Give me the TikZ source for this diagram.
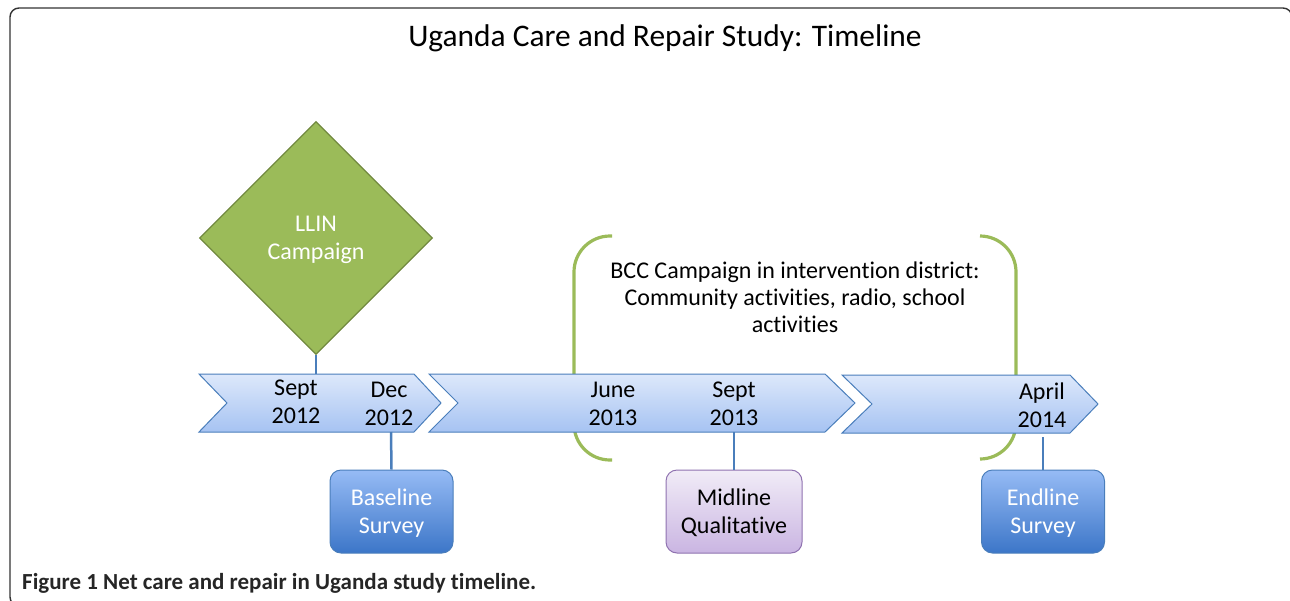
\documentclass[tikz,border=0pt]{standalone}
\usepackage{fontspec}
\setmainfont{Carlito}[Ligatures=NoCommon]
\usetikzlibrary{shapes.geometric}
\definecolor{chevb}{HTML}{4A7EBB}
\definecolor{chevt}{HTML}{DDE8FB}
\definecolor{chevbot}{HTML}{A6C3F2}
\definecolor{survt}{HTML}{96BBF5}
\definecolor{survb}{HTML}{3C76C8}
\definecolor{midt}{HTML}{F1ECF7}
\definecolor{midb}{HTML}{CAB5E2}
\definecolor{midd}{HTML}{8F72B0}
\definecolor{llin}{HTML}{9BBB59}
\definecolor{llind}{HTML}{71893F}
\definecolor{frame}{HTML}{333333}
\tikzset{
  chev/.style={draw=chevb, line width=1pt, top color=chevt, bottom color=chevbot},
  datelbl/.style={font=\fontsize{24}{28}\selectfont, align=center, inner sep=0pt},
  survey/.style={rectangle, rounded corners=11pt, draw=chevb, line width=1pt, top color=survt, bottom color=survb, minimum width=123pt, minimum height=83pt, text=white, align=center, font=\fontsize{24}{28}\selectfont, text depth=-4pt},
  midbox/.style={rectangle, rounded corners=11pt, draw=midd, line width=1pt, top color=midt, bottom color=midb, minimum width=136pt, minimum height=83pt, text=black, align=center, font=\fontsize{24}{28}\selectfont, text depth=-4pt},
  link/.style={draw=chevb, line width=2.5pt},
  bracket/.style={draw=llin, line width=3.2pt, rounded corners=36pt},
}
\begin{document}
\begin{tikzpicture}[x=1pt,y=-1pt]
\useasboundingbox (0,0) rectangle (1290,600);
\begin{scope}
\clip (0,0) rectangle (1290,600);
\draw[frame, line width=1.4pt, rounded corners=9pt] (10,8) rectangle (1292,606);
\end{scope}

% title
\node[font=\fontsize{31.4}{36}\selectfont, inner sep=0pt] (title) at (665,38) {Uganda Care and Repair Study: Timeline};

% brackets (behind chevrons)
\draw[bracket] (612,236) -- (574,236) -- (574,460) -- (612,460);
\draw[bracket] (980,236) -- (1016,236) -- (1016,459) -- (980,459);

% chevrons
\path[chev] (199,374) -- (414,374) -- (441,403) -- (414,432) -- (199,432) -- (227,403) -- cycle;
\path[chev] (429,374) -- (825,374) -- (855,403) -- (825,432) -- (429,432) -- (458,403) -- cycle;
\path[chev] (842,375) -- (1070,375) -- (1098,404) -- (1070,433) -- (842,433) -- (872,404) -- cycle;

\coordinate (c1top) at (316,374);
\coordinate (c1bot) at (391,432);
\coordinate (c2bot) at (734,432);
\coordinate (c3bot) at (1043,437);

% date labels
\node[datelbl] (sept12) at (296,402) {Sept\\2012};
\node[datelbl] (dec12) at (389,403.5) {Dec\\2012};
\node[datelbl] (june13) at (613,404) {June\\2013};
\node[datelbl] (sept13) at (734,404) {Sept\\2013};
\node[datelbl] (apr14) at (1042,405) {April\\2014};

% LLIN diamond
\node[diamond, aspect=1, minimum size=233pt, inner sep=0pt, fill=llin, draw=llind, line width=1.2pt, text=white, align=center, font=\fontsize{24}{28}\selectfont, text depth=0pt] (llin) at (316,238) {LLIN\\Campaign};
\draw[link] (llin.south) -- (c1top);

% BCC text
\node[font=\fontsize{24}{27}\selectfont, align=center, inner sep=0pt] (bcc) at (795,297) {BCC Campaign in intervention district:\\Community activities, radio, school\\activities};

% survey boxes
\node[survey] (base) at (391.5,511.5) {Baseline\\Survey};
\node[midbox] (mid) at (734,511.5) {Midline\\Qualitative};
\node[survey] (end) at (1043,511.5) {Endline\\Survey};
\draw[link] (c1bot) -- (base.north);
\draw[link] (c2bot) -- (mid.north);
\draw[link] (c3bot) -- (end.north);

% caption
\node[anchor=west, font=\fontsize{23}{26}\selectfont\bfseries, text=black!85, inner sep=0pt] (cap) at (22,583) {Figure 1 Net care and repair in Uganda study timeline.};
\end{tikzpicture}
\end{document}
